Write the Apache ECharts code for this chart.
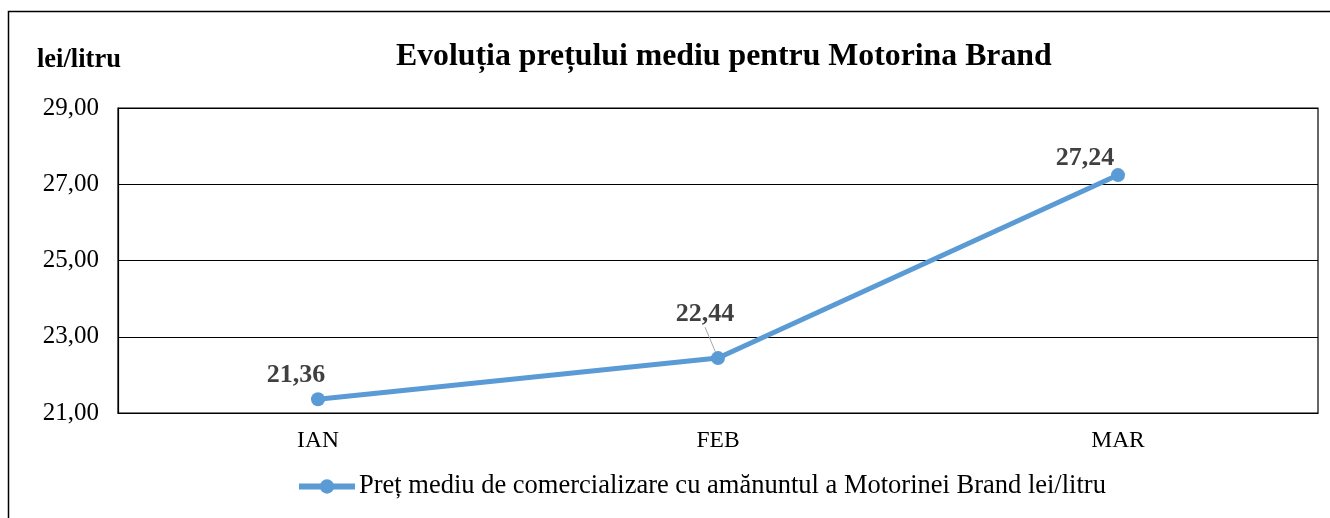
<!DOCTYPE html>
<html>
<head>
<meta charset="utf-8">
<script src="https://cdn.jsdelivr.net/npm/echarts@6/dist/echarts.min.js"></script>
<style>html,body{margin:0;padding:0;background:#fff}#c{width:1330px;height:518px}</style>
</head>
<body>
<div id="c"></div>
<script>
var categories = ['IAN', 'FEB', 'MAR'];
var values = [21.36, 22.44, 27.24];
var seriesName = 'Preț mediu de comercializare cu amănuntul a Motorinei Brand lei/litru';
var titleText = 'Evoluția prețului mediu pentru Motorina Brand';
var unitText = 'lei/litru';

var FONT = '"Liberation Serif", "Times New Roman", serif';
var chart = echarts.init(document.getElementById('c'));
var data = values.map(function (v, i) {
  if (i === 1) return { value: v, labelLine: { show: true } };
  return v;
});
var labelShift = [[-22, 3], [-13, -17], [-33, 10]];
chart.setOption({
  animation: false,
  graphic: [{
    type: 'rect', shape: { x: 8.5, y: 11.5, width: 1330, height: 520 },
    style: { fill: 'none', stroke: '#000', lineWidth: 1.5 }, silent: true
  }],
  title: [{
    text: titleText, left: 391, top: 36,
    textStyle: { fontFamily: FONT, fontWeight: 'bold', fontSize: 31.8, color: '#000' }
  }, {
    text: unitText, left: 32, top: 42,
    textStyle: { fontFamily: FONT, fontWeight: 'bold', fontSize: 26.5, color: '#000' }
  }],
  legend: {
    top: 468, left: 291, itemWidth: 56, itemHeight: 18, itemGap: 10,
    textStyle: { fontFamily: FONT, fontSize: 26.5, color: '#000', padding: [0, 0, 0, -1] },
    lineStyle: { width: 6 },
    data: [seriesName]
  },
  grid: { left: 118, right: 12, top: 108, bottom: 105, show: true, borderColor: '#000', borderWidth: 1.2 },
  xAxis: {
    type: 'category', data: categories, boundaryGap: true,
    axisLine: { lineStyle: { color: '#000', width: 1.2 } },
    axisTick: { show: false },
    axisLabel: { fontFamily: FONT, fontSize: 23.5, color: '#000', margin: 16 }
  },
  yAxis: {
    type: 'value', min: 21, max: 29, interval: 2,
    axisLine: { show: true, lineStyle: { color: '#000', width: 1.2 } },
    axisTick: { show: false },
    splitLine: { lineStyle: { color: '#000', width: 1.2 } },
    axisLabel: {
      fontFamily: FONT, fontSize: 25, color: '#000', margin: 19,
      formatter: function (v) { return v.toFixed(2).replace('.', ','); }
    }
  },
  series: [{
    name: seriesName, type: 'line', data: data,
    symbol: 'circle', symbolSize: 14,
    itemStyle: { color: '#5B9BD5' },
    lineStyle: { color: '#5B9BD5', width: 5 },
    label: {
      show: true, position: 'top', distance: 7,
      fontFamily: FONT, fontWeight: 'bold', fontSize: 26, color: '#404040',
      formatter: function (p) { return p.value.toFixed(2).replace('.', ','); }
    },
    labelLine: { show: false, lineStyle: { color: '#a6a6a6', width: 1 } },
    labelLayout: function (p) {
      var s = labelShift[p.dataIndex];
      return { dx: s[0], dy: s[1] };
    }
  }]
});
</script>
</body>
</html>
